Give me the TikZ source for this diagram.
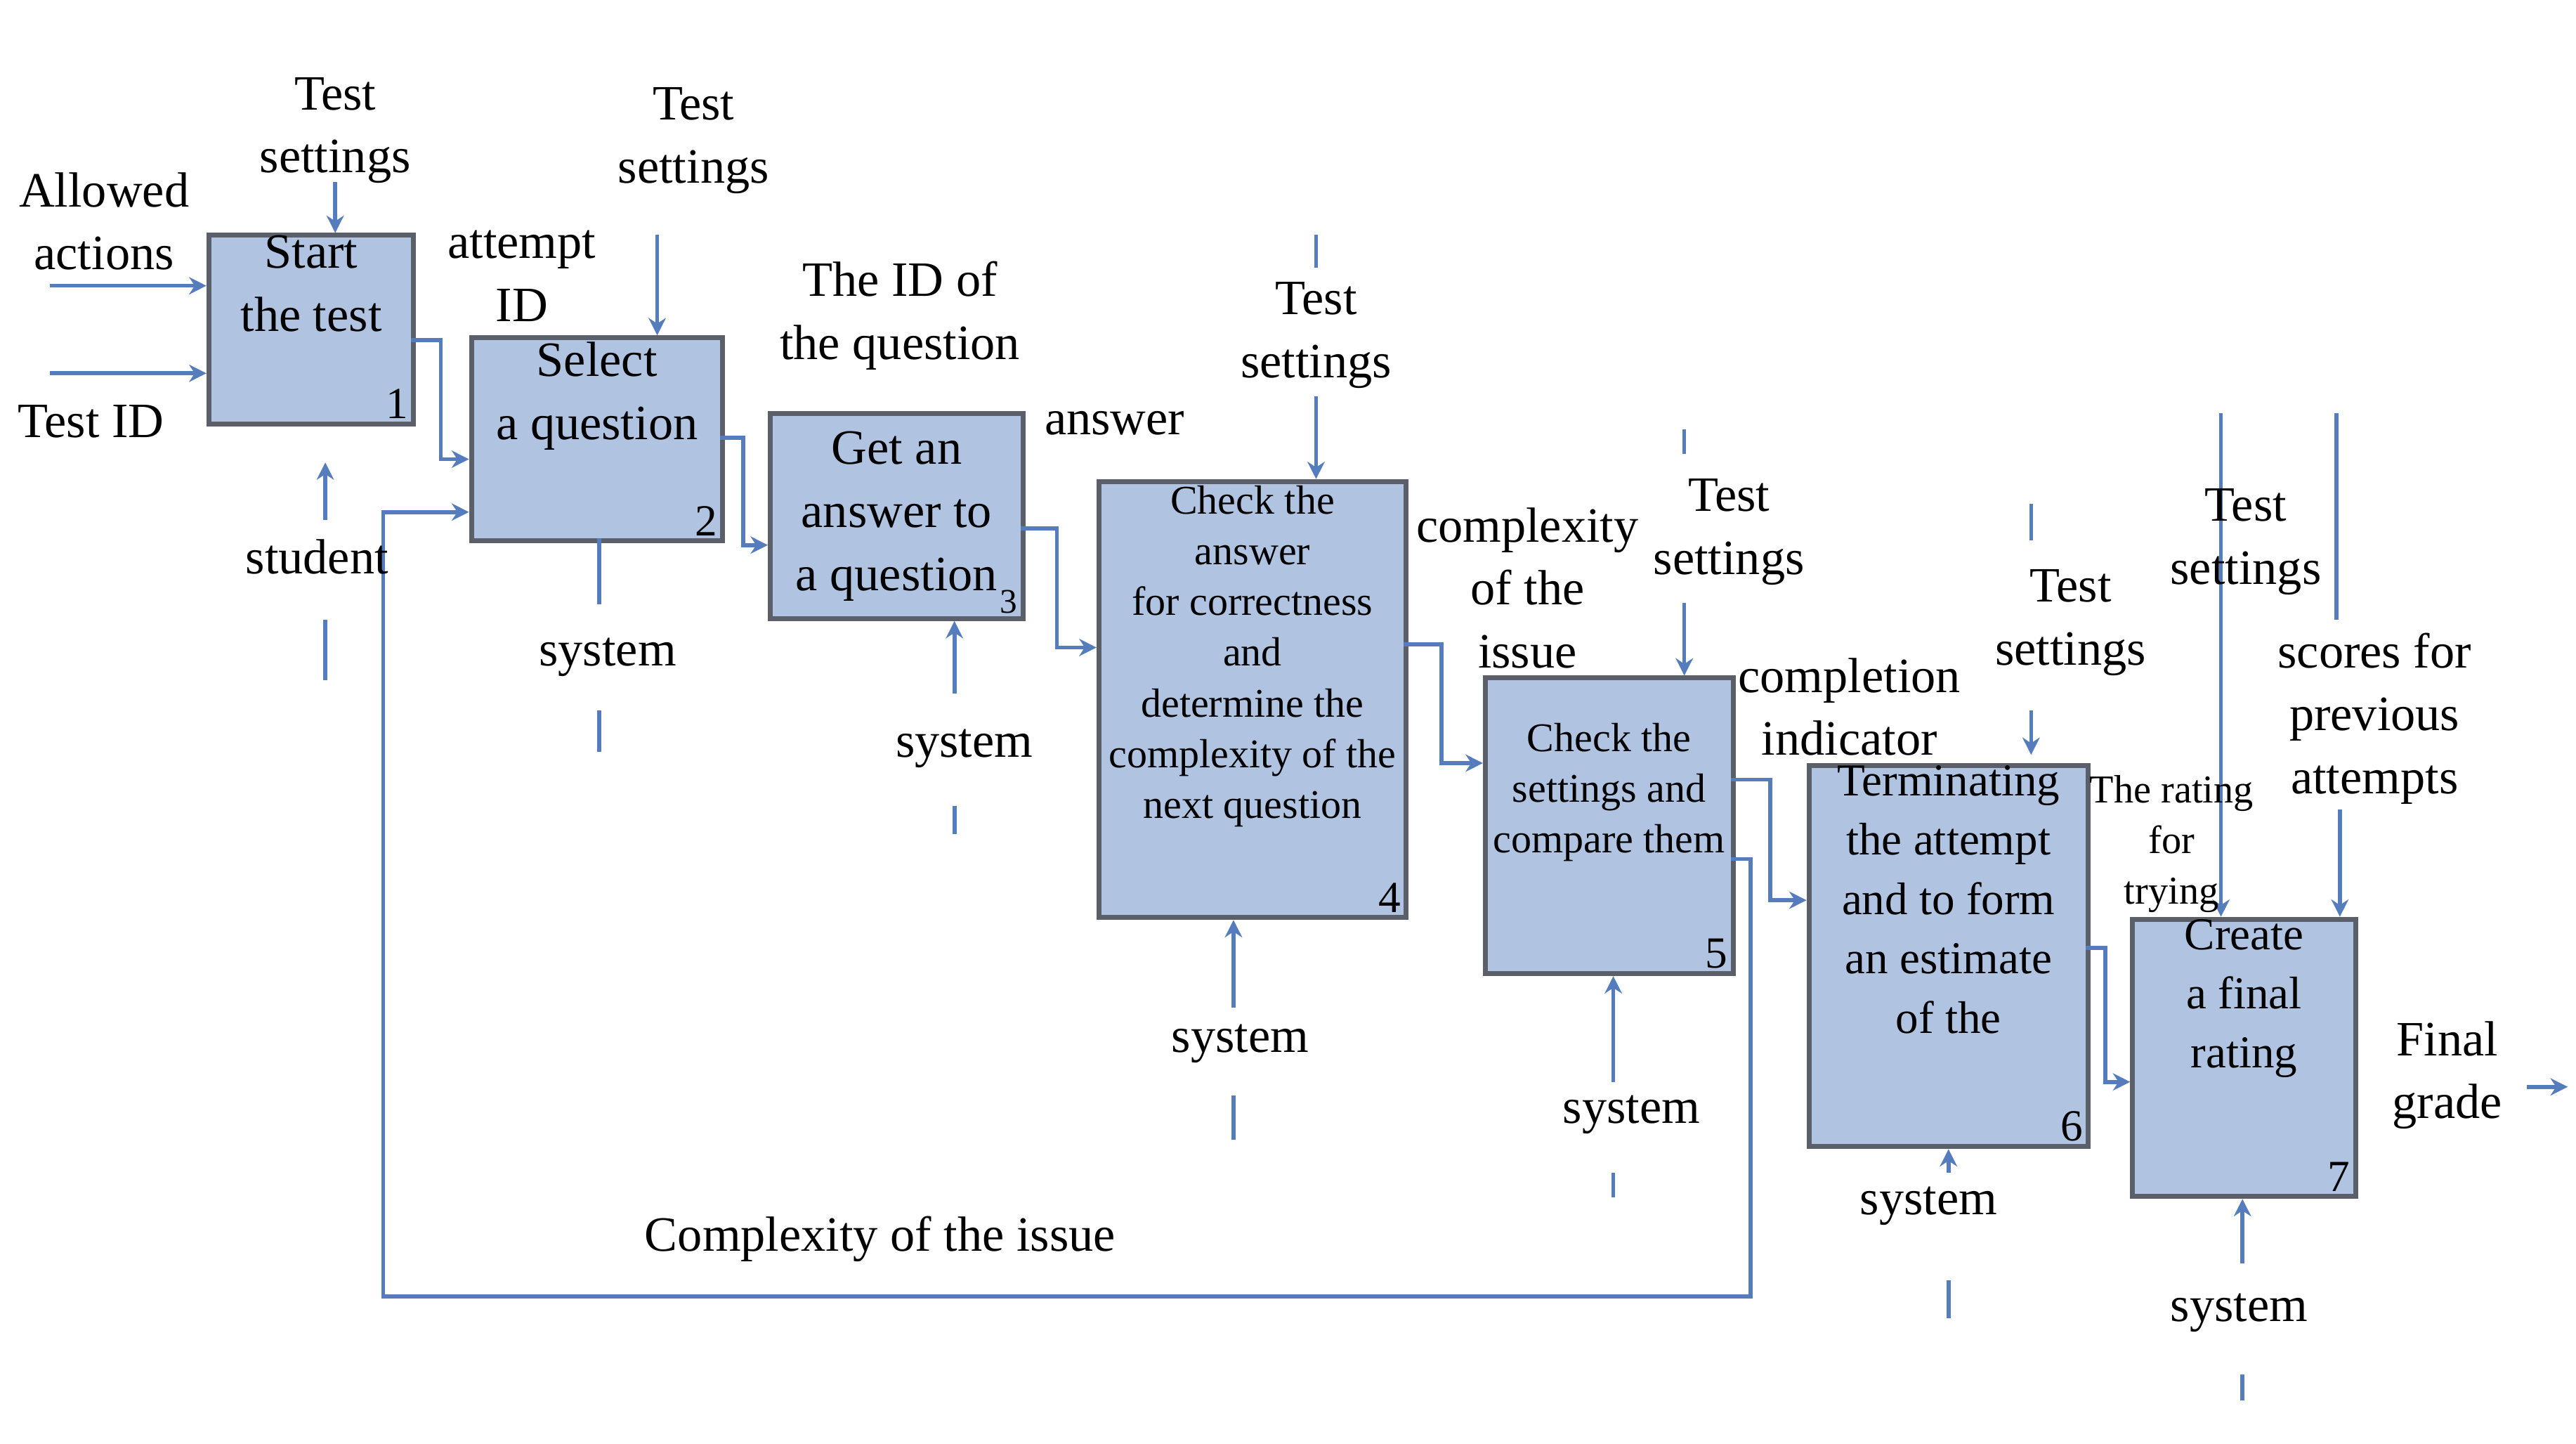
\documentclass[tikz,border=0pt]{standalone}
\usepackage{fontspec}
\setmainfont{Liberation Serif}
\usetikzlibrary{arrows.meta}
\definecolor{boxfill}{RGB}{176,196,226}
\definecolor{boxline}{RGB}{90,95,105}
\definecolor{arr}{RGB}{85,125,190}
\begin{document}
\begin{tikzpicture}[x=0.0235cm,y=-0.0235cm,
  box/.style={draw=boxline,line width=2pt,fill=boxfill,inner sep=0pt,anchor=north west,align=center},
  lbl/.style={align=center,font=\fontsize{20}{25.5}\selectfont,inner sep=0pt},
  con/.style={draw=arr,line width=1.6pt,-{Stealth[length=7pt,width=7pt]}},
  ln/.style={draw=arr,line width=1.6pt},
  num/.style={anchor=south east,inner sep=3pt,font=\fontsize{18}{20}\selectfont}]
\useasboundingbox (0,0) rectangle (1560,874);
% boxes
\node[box,minimum width=124*0.0235cm,minimum height=105*0.0235cm,font=\fontsize{20}{25.5}\selectfont] (b1) at (125,141) {Start\\the test\\[12pt]};
\node[num] at (b1.south east) {1};
\node[box,minimum width=152*0.0235cm,minimum height=123*0.0235cm,font=\fontsize{20}{25.5}\selectfont] (b2) at (284,203) {Select\\a question\\[14pt]};
\node[num] at (b2.south east) {2};
\node[box,minimum width=153*0.0235cm,minimum height=124*0.0235cm,font=\fontsize{20}{25.5}\selectfont] (b3) at (465,249) {Get an\\answer to\\a question};
\node[num,font=\fontsize{14}{16}\selectfont] at (b3.south east) {3};
\node[box,minimum width=186*0.0235cm,minimum height=264*0.0235cm,font=\fontsize{16.5}{20.5}\selectfont] (b4) at (664,290) {Check the\\answer\\for correctness\\and\\determine the\\complexity of the\\next question\\[18pt]};
\node[num] at (b4.south east) {4};
\node[box,minimum width=150*0.0235cm,minimum height=179*0.0235cm,font=\fontsize{16.5}{20.5}\selectfont] (b5) at (898,409) {Check the\\settings and\\compare them\\[10pt]};
\node[num] at (b5.south east) {5};
\node[box,minimum width=169*0.0235cm,minimum height=194*0.0235cm,font=\fontsize{18.5}{24}\selectfont] (b6) at (1094,462) {Terminating\\the attempt\\and to form\\an estimate\\of the\\[22pt]};
\node[num] at (b6.south east) {6};
\node[box,minimum width=135*0.0235cm,minimum height=155*0.0235cm,font=\fontsize{18.5}{24}\selectfont] (b7) at (1290,555) {Create\\a final\\rating\\[28pt]};
\node[num] at (b7.south east) {7};
% inputs
\coordinate (aa) at (30,173); \coordinate (ti) at (30,226);
\draw[con] (aa) -- (aa -| b1.west);
\draw[con] (ti) -- (ti -| b1.west);
\coordinate (t1) at (203,110); \draw[con] (t1) -- (t1 |- b1.north);
\coordinate (s1a) at (197,315); \coordinate (s1b) at (197,375); \coordinate (s1c) at (197,412);
\draw[con] (s1a) -- (197,280); \draw[ln] (s1b) -- (s1c);
% box-to-box
\draw[con] (249,206) -- (267,206) -- (267,278) -- (278,278) -- (b2.west |- 0,278);
\draw[con] (436,265) -- (450,265) -- (450,330) -- (b3.west |- 0,330);
\draw[con] (618,320) -- (640,320) -- (640,392) -- (b4.west |- 0,392);
\draw[con] (850,390) -- (873,390) -- (873,462) -- (b5.west |- 0,462);
\draw[con] (1048,472) -- (1072,472) -- (1072,545) -- (b6.west |- 0,545);
\draw[con] (1263,574) -- (1275,574) -- (1275,655) -- (b7.west |- 0,655);
% feedback
\draw[con] (1048,520) -- (1060,520) -- (1060,785) -- (232,785) -- (232,310) -- (b2.west |- 0,310);
% controls
\coordinate (t2) at (398,142); \draw[con] (t2) -- (t2 |- b2.north);
\coordinate (t4a) at (797,142); \draw[ln] (t4a) -- (797,162);
\coordinate (t4) at (797,240); \draw[con] (t4) -- (t4 |- b4.north);
\coordinate (t5a) at (1020,260); \draw[ln] (t5a) -- (1020,275);
\coordinate (t5) at (1020,365); \draw[con] (t5) -- (t5 |- b5.north);
\coordinate (t6a) at (1230,305); \draw[ln] (t6a) -- (1230,327);
\coordinate (t6) at (1230,430); \draw[con] (t6) -- (1230,457);
\coordinate (t7) at (1345,250); \draw[con] (t7) -- (t7 |- b7.north);
\coordinate (sc) at (1415,250); \draw[ln] (sc) -- (1415,375);
\coordinate (sc2) at (1417,490); \draw[con] (sc2) -- (sc2 |- b7.north);
% mechanisms
\coordinate (m2) at (363,326); \draw[ln] (m2) -- (363,366);
\coordinate (m2b) at (363,430); \draw[ln] (m2b) -- (363,455);
\coordinate (m3) at (578,420); \draw[con] (m3) -- (m3 |- b3.south);
\coordinate (m3b) at (578,488); \draw[ln] (m3b) -- (578,505);
\coordinate (m4) at (747,610); \draw[con] (m4) -- (m4 |- b4.south);
\coordinate (m4b) at (747,663); \draw[ln] (m4b) -- (747,690);
\coordinate (m5) at (977,655); \draw[con] (m5) -- (m5 |- b5.south);
\coordinate (m5b) at (977,710); \draw[ln] (m5b) -- (977,725);
\coordinate (m6) at (1180,710); \draw[con] (m6) -- (m6 |- b6.south);
\coordinate (m6b) at (1180,775); \draw[ln] (m6b) -- (1180,798);
\coordinate (m7) at (1358,765); \draw[con] (m7) -- (m7 |- b7.south);
\coordinate (m7b) at (1358,832); \draw[ln] (m7b) -- (1358,848);
% output
\coordinate (fg) at (1530,658); \draw[con] (fg) -- (1555,658);
% labels
\node[lbl] at (203,79) {Test\\settings};
\node[lbl] at (63,134) {Allowed\\actions};
\node[lbl] at (55,255) {Test ID};
\node[lbl] at (316,167) {attempt\\ID};
\node[lbl] at (420,85) {Test\\settings};
\node[lbl] at (545,191) {The ID of\\the question};
\node[lbl] at (675,256) {answer};
\node[lbl] at (192,337) {student};
\node[lbl] at (368,398) {system};
\node[lbl] at (584,453) {system};
\node[lbl] at (797,203) {Test\\settings};
\node[lbl] at (925,356) {complexity\\of the\\issue};
\node[lbl] at (1047,322) {Test\\settings};
\node[lbl] at (1120,428) {completion\\indicator};
\node[lbl] at (1254,377) {Test\\settings};
\node[lbl] at (1360,328) {Test\\settings};
\node[lbl] at (1438,435) {scores for\\previous\\attempts};
\node[lbl,font=\fontsize{16}{20.5}\selectfont] at (1315,511) {The rating\\for\\trying};
\node[lbl] at (751,632) {system};
\node[lbl] at (988,675) {system};
\node[lbl] at (1168,730) {system};
\node[lbl] at (1356,795) {system};
\node[lbl] at (1482,651) {Final\\grade};
\node[lbl] at (533,750) {Complexity of the issue};
\end{tikzpicture}
\end{document}
